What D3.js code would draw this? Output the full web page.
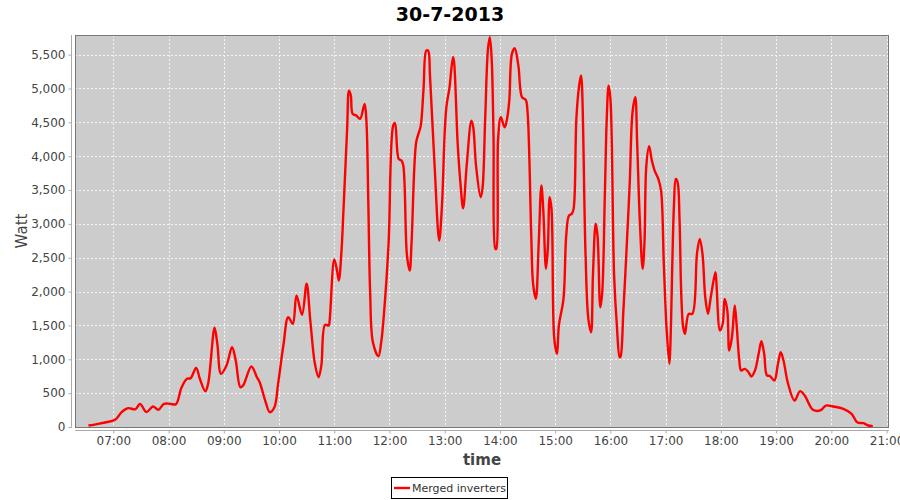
<!DOCTYPE html>
<html>
<head>
<meta charset="utf-8">
<script src="https://cdn.jsdelivr.net/npm/d3@7"></script>
<style>
  body { margin: 0; background: #fff; }
  svg { display: block; font-family: "DejaVu Sans", sans-serif; }
</style>
</head>
<body>
<div id="chart"></div>
<script>
// data (time of day, watt)
var times = ["06:33","06:44","06:51","07:02","07:09","07:16","07:24","07:29","07:36","07:43",
  "07:49","07:55","08:02","08:08","08:14","08:20","08:24","08:30","08:34","08:40",
  "08:43","08:50","08:53","08:57","09:03","09:09","09:13","09:18","09:21","09:30",
  "09:36","09:39","09:45","09:50","09:55","09:59","10:05","10:10","10:15","10:19",
  "10:25","10:30","10:34","10:39","10:43","10:46","10:50","10:54","10:55","11:00",
  "11:03","11:05","11:08","11:10","11:14","11:16","11:18","11:20","11:24","11:28",
  "11:33","11:35","11:37","11:39","11:42","11:48","11:51","11:54","11:59","12:04",
  "12:06","12:10","12:13","12:15","12:19","12:22","12:24","12:29","12:32","12:34",
  "12:37","12:40","12:42","12:44","12:49","12:54","12:57","13:00","13:02","13:05",
  "13:09","13:10","13:14","13:17","13:20","13:24","13:29","13:31","13:34","13:39",
  "13:41","13:44","13:47","13:49","13:51","13:53","13:55","13:56","13:58","14:01",
  "14:05","14:07","14:10","14:13","14:16","14:20","14:24","14:28","14:30","14:34",
  "14:36","14:39","14:42","14:45","14:47","14:50","14:52","14:54","14:56","14:59",
  "15:02","15:04","15:09","15:12","15:15","15:18","15:20","15:23","15:26","15:28",
  "15:29","15:33","15:36","15:39","15:41","15:44","15:46","15:49","15:51","15:54",
  "15:56","15:58","16:00","16:04","16:07","16:10","16:11","16:14","16:18","16:21",
  "16:24","16:27","16:29","16:32","16:35","16:37","16:39","16:42","16:45","16:48",
  "16:52","16:55","16:58","17:01","17:04","17:05","17:09","17:11","17:13","17:15",
  "17:17","17:19","17:21","17:25","17:29","17:34","17:37","17:40","17:43","17:46",
  "17:49","17:54","17:55","17:59","18:02","18:04","18:07","18:09","18:12","18:15",
  "18:17","18:20","18:22","18:26","18:30","18:33","18:37","18:41","18:44","18:47",
  "18:50","18:53","18:58","19:02","19:05","19:08","19:13","19:20","19:26","19:31",
  "19:40","19:48","19:54","20:02","20:13","20:22","20:28","20:35","20:40","20:45"];

var watts = [22,47,66,106,219,278,263,342,219,303,
  254,342,342,337,579,712,721,874,712,529,
  638,1465,1229,786,908,1178,982,588,613,893,
  735,662,391,219,292,638,1229,1622,1524,1942,
  1657,2115,1573,933,735,908,1509,1499,1573,2474,
  2311,2163,2631,3197,4403,4969,4895,4625,4600,4551,
  4773,4501,3320,1991,1252,1046,1252,1672,2705,4452,
  4492,3960,3935,3862,2533,2311,2729,4206,4353,4452,
  4994,5560,5560,5191,3862,2754,3271,4353,4748,4994,
  5461,5412,4206,3615,3231,3887,4526,4427,3862,3394,
  3518,4575,5585,5756,5437,4305,2631,2631,4256,4575,
  4427,4501,4797,5511,5594,5338,4870,4831,4649,2828,
  2115,1893,2680,3566,3222,2336,2631,3394,3222,1302,
  1081,1499,1893,2828,3123,3148,3222,4551,5043,5191,
  5068,2533,1598,1400,2237,3001,2828,1769,1967,3467,
  4551,5043,4846,2237,1499,1031,1040,1696,2754,3615,
  4649,4870,4206,3024,2336,2729,3862,4147,3935,3788,
  3665,3492,2410,1450,933,1155,3271,3665,3615,3098,
  1942,1474,1376,1672,1672,2558,2779,2558,1917,1672,
  1917,2286,2163,1425,1524,1893,1720,1130,1326,1794,
  1524,982,834,859,810,746,834,1081,1267,1081,
  761,756,687,933,1105,982,638,391,529,465,
  254,244,317,303,269,195,71,56,22,12];

var title = "30-7-2013";
var seriesName = "Merged inverters";
var yTicks = d3.range(0, 5501, 500);

var width = 900, height = 500;
var plot = { left: 75, top: 35, right: 889, bottom: 427 };

var parseTime = d3.timeParse("%Y-%m-%d %H:%M");
var data = times.map(function(t, i) {
    return { date: parseTime("2013-07-30 " + t), value: watts[i] };
});

var x = d3.scaleTime()
    .domain([new Date(2013, 6, 30, 6, 18, 24), new Date(2013, 6, 30, 21, 2, 36)])
    .range([plot.left, plot.right]);

var y = d3.scaleLinear()
    .domain([0, 5790])
    .range([plot.bottom, plot.top]);

var svg = d3.select("#chart")
    .append("svg")
    .attr("width", width)
    .attr("height", height);

// Plot background
svg.append("rect")
    .attr("x", plot.left)
    .attr("y", plot.top)
    .attr("width", plot.right - plot.left)
    .attr("height", plot.bottom - plot.top)
    .attr("fill", "#cccccc");

// Gridlines
var xTickVals = x.ticks(d3.timeHour.every(1));
svg.append("g")
    .selectAll("line")
    .data(xTickVals)
    .enter()
    .append("line")
        .attr("x1", function(d) { return Math.round(x(d)) + 0.5; })
        .attr("x2", function(d) { return Math.round(x(d)) + 0.5; })
        .attr("y1", plot.top)
        .attr("y2", plot.bottom)
        .attr("stroke", "#f4f4f4")
        .attr("stroke-dasharray", "2,2");

svg.append("g")
    .selectAll("line")
    .data(yTicks)
    .enter()
    .append("line")
        .attr("x1", plot.left)
        .attr("x2", plot.right)
        .attr("y1", function(d) { return Math.round(y(d)) + 0.5; })
        .attr("y2", function(d) { return Math.round(y(d)) + 0.5; })
        .attr("stroke", "#f4f4f4")
        .attr("stroke-dasharray", "2,2");

// Line
var line = d3.line()
    .x(function(d) { return x(d.date); })
    .y(function(d) { return y(d.value); })
    .curve(d3.curveCatmullRom.alpha(0.5));

svg.append("path")
    .datum(data)
    .attr("d", line)
    .attr("fill", "none")
    .attr("stroke", "#ff0000")
    .attr("stroke-width", 2.4)
    .attr("stroke-linejoin", "round");

// Plot outline
svg.append("rect")
    .attr("x", plot.left + 0.5)
    .attr("y", plot.top + 0.5)
    .attr("width", plot.right - plot.left - 1)
    .attr("height", plot.bottom - plot.top)
    .attr("fill", "none")
    .attr("stroke", "#777");

// Y axis
var yAxis = svg.append("g")
    .attr("transform", "translate(71.5,0)")
    .call(d3.axisLeft(y).tickValues(yTicks).tickFormat(d3.format(",")).tickSizeInner(3).tickSizeOuter(0).tickPadding(3));
yAxis.select(".domain").attr("stroke", "#aaa").attr("d", "M0," + plot.top + "V" + (plot.bottom + 0.5));
yAxis.selectAll(".tick line").attr("stroke", "#aaa");
yAxis.selectAll("text").attr("fill", "#444").style("font-size", "12px").style("font-family", "DejaVu Sans");

// X axis
var xAxis = svg.append("g")
    .attr("transform", "translate(0," + (plot.bottom + 3.5) + ")")
    .call(d3.axisBottom(x).ticks(d3.timeHour.every(1)).tickFormat(d3.timeFormat("%H:%M")).tickSizeInner(3).tickSizeOuter(0).tickPadding(3));
xAxis.select(".domain").attr("stroke", "#aaa").attr("d", "M" + plot.left + ",0H" + plot.right);
xAxis.selectAll(".tick line").attr("stroke", "#aaa");
xAxis.selectAll("text").attr("fill", "#444").style("font-size", "12px").style("font-family", "DejaVu Sans");

// Axis labels
svg.append("text")
    .attr("x", (plot.left + plot.right) / 2)
    .attr("y", 465)
    .attr("text-anchor", "middle")
    .attr("fill", "#444")
    .style("font-size", "15px")
    .style("font-weight", "bold")
    .text("time");

svg.append("text")
    .attr("transform", "translate(27," + ((plot.top + plot.bottom) / 2) + ") rotate(-90)")
    .attr("text-anchor", "middle")
    .attr("fill", "#444")
    .style("font-size", "15px")
    .text("Watt");

// Title
svg.append("text")
    .attr("x", width / 2)
    .attr("y", 21)
    .attr("text-anchor", "middle")
    .attr("fill", "#000")
    .style("font-size", "19px")
    .style("font-weight", "bold")
    .text(title);

// Legend
var legend = svg.append("g");
legend.append("rect")
    .attr("x", 391.5)
    .attr("y", 477.5)
    .attr("width", 116)
    .attr("height", 21)
    .attr("fill", "#fff")
    .attr("stroke", "#000");
legend.append("line")
    .attr("x1", 394)
    .attr("x2", 410)
    .attr("y1", 488)
    .attr("y2", 488)
    .attr("stroke", "#ff0000")
    .attr("stroke-width", 2.4);
legend.append("text")
    .attr("x", 412)
    .attr("y", 492)
    .attr("fill", "#333")
    .style("font-size", "11px")
    .text(seriesName);
</script>
</body>
</html>
